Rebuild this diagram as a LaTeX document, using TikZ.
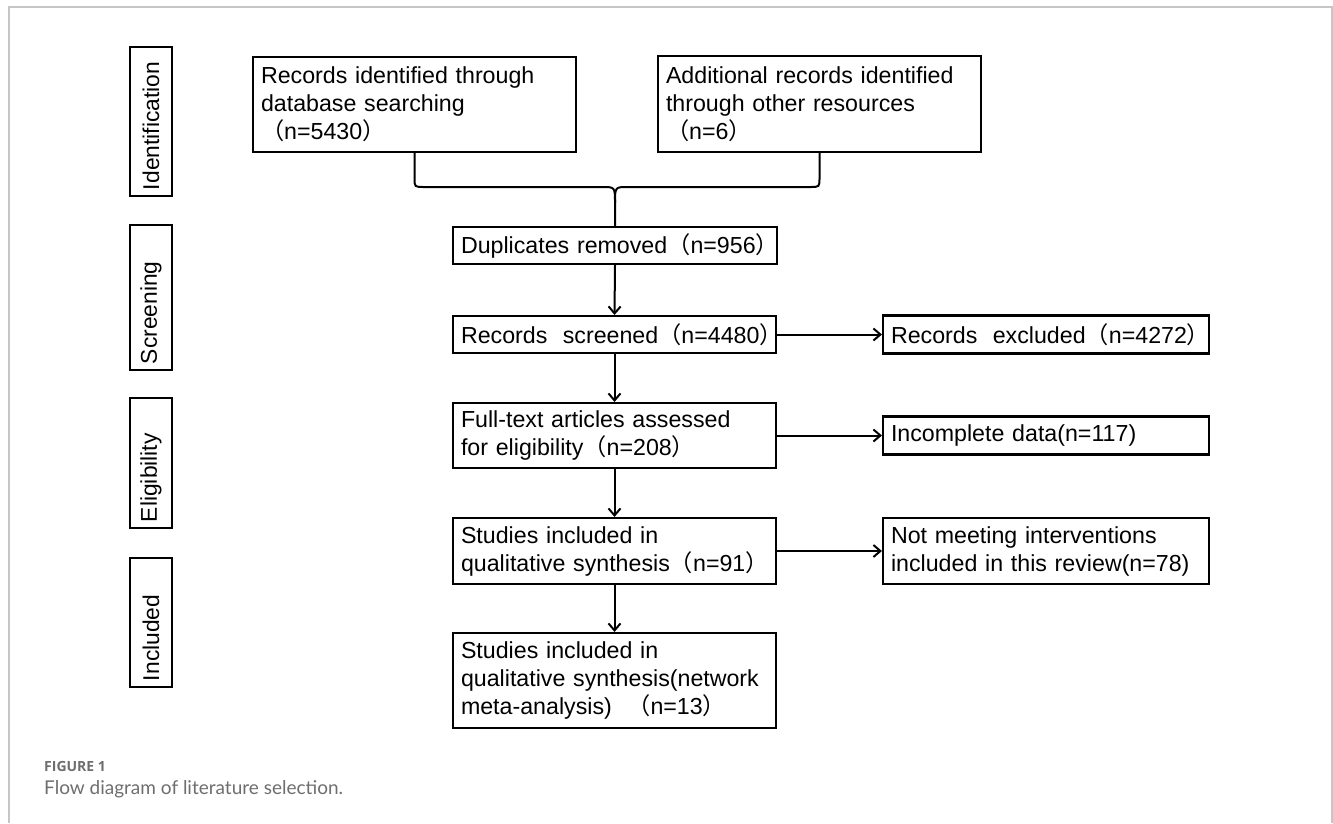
\documentclass[tikz,border=0pt]{standalone}
\usepackage{fontspec}
\setmainfont{Liberation Sans}
\newfontfamily\cjk{Noto Sans CJK SC}
\newfontfamily\capfont{Lato}
\newfontfamily\figfont{Open Sans}
\usetikzlibrary{arrows.meta}
\definecolor{capgray}{RGB}{110,110,110}
\newcommand{\zlp}{{\cjk （}}
\newcommand{\zrp}{{\cjk ）}}
\hyphenpenalty=10000
\exhyphenpenalty=10000
\tikzset{
  flowbox/.style={draw, line width=2.1pt, inner xsep=8pt, inner ysep=0pt, align=left, font=\fontsize{23.2}{28}\selectfont},
  stagebox/.style={draw, line width=2.1pt, rotate=90, inner xsep=6pt, inner ysep=0pt, align=left, minimum height=42pt, font=\fontsize{22.8}{28}\selectfont},
  link/.style={line width=2pt, -{Straight Barb[length=7pt,width=12pt]}},
  brace line/.style={line width=2pt},
  frame line/.style={draw=gray!45, line width=1.5pt},
}
\begin{document}
\begin{tikzpicture}[x=1pt,y=1pt,yscale=-1,xscale=1]
\useasboundingbox (0,0) rectangle (1333,823);

%Frame
\draw[frame line] (9,823) -- (9,7) -- (1332,7) -- (1332,823);

% Stage Nodes
\node[stagebox, text width=137pt] (ident) at (151,121.5) {Identification};
\node[stagebox, text width=133pt] (scrn) at (151,297.5) {Screening};
\node[stagebox, text width=118pt] (elig) at (151,463) {Eligibility};
\node[stagebox, text width=117pt] (incl) at (151,622.5) {Included};

% Text Node
\node[flowbox, text width=307pt, minimum height=95pt] (rec) at (414.5,104.5) {Records identified through\\database searching\\\zlp n=5430\zrp};
% Text Node
\node[flowbox, text width=307pt, minimum height=96pt] (add) at (819.5,104) {Additional records identified\\through other resources\\\zlp n=6\zrp};
% Text Node
\node[flowbox, text width=308pt, minimum height=37pt] (dup) at (615,245.5) {Duplicates~removed\zlp n=956\zrp};
% Text Node
\node[flowbox, text width=307pt, minimum height=37pt] (scr) at (614.5,334.5) {Records~~screened\zlp n=4480\zrp};
% Text Node
\node[flowbox, text width=310pt, minimum height=38pt] (excl) at (1046,334.5) {Records~~excluded\zlp n=4272\zrp};
% Text Node
\node[flowbox, text width=307pt, minimum height=65pt] (full) at (614.5,435.5) {Full-text articles assessed\\for~eligibility\zlp n=208\zrp};
% Text Node
\node[flowbox, text width=310pt, minimum height=38pt] (inc) at (1046,435.5) {Incomplete~data(n=117)};
% Text Node
\node[flowbox, text width=307pt, minimum height=66pt] (stud) at (614.5,551) {Studies included in\\qualitative~synthesis\zlp n=91\zrp};
% Text Node
\node[flowbox, text width=310pt, minimum height=66pt] (notm) at (1046,551) {Not meeting interventions\\included~in~this~review(n=78)};
% Text Node
\node[flowbox, text width=307pt, minimum height=95pt] (net) at (614.5,680.5) {Studies included in\\qualitative~synthesis(network\\meta-analysis)~~\zlp n=13\zrp};

%Brace Lines
\draw[brace line] (rec.south) -- (414.5,178) .. controls (414.5,187) .. (424,187) -- (602,187) .. controls (615,187) .. (615,203) -- (dup.north);
\draw[brace line] (add.south) -- (819.5,178) .. controls (819.5,187) .. (810,187) -- (628,187) .. controls (615,187) .. (615,203);

%Straight Lines
\draw[link] (dup.south) -- (scr.north);
\draw[link] (scr.east) -- (excl.west);
\draw[link] (scr.south) -- (full.north);
\draw[link] (full.east) -- (inc.west);
\draw[link] (full.south) -- (stud.north);
\draw[link] (stud.east) -- (notm.west);
\draw[link] (stud.south) -- (net.north);

% Caption
\node[anchor=base west, inner sep=0pt, text=capgray, font=\figfont\bfseries\fontsize{14}{17}\selectfont] (fig) at (44,771) {FIGURE 1};
\node[anchor=base west, inner sep=0pt, text=capgray, font=\capfont\fontsize{19}{23}\selectfont] (cap) at (44,794) {Flow diagram of literature selection.};

\end{tikzpicture}
\end{document}
